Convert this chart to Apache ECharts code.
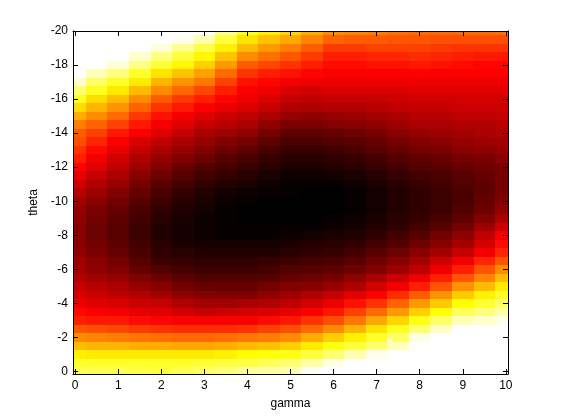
<!DOCTYPE html>
<html>
<head>
<meta charset="utf-8">
<script src="https://cdn.jsdelivr.net/npm/echarts@6/dist/echarts.min.js"></script>
<style>
  html, body { margin: 0; padding: 0; background: #fff; }
  #chart { width: 561px; height: 420px; }
</style>
</head>
<body>
<div id="chart"></div>
<script>
// surface (level 0 = black, 1 = white)
var gammaValues = [0, 0.5, 1, 1.5, 2, 2.5, 3, 3.5, 4, 4.5, 5, 5.5, 6, 6.5, 7, 7.5, 8, 8.5, 9, 9.5, 10];
var thetaValues = [0, -0.5, -1, -1.5, -2, -2.5, -3, -3.5, -4, -4.5, -5, -5.5, -6, -6.5, -7, -7.5, -8, -8.5, -9, -9.5,
  -10, -10.5, -11, -11.5, -12, -12.5, -13, -13.5, -14, -14.5, -15, -15.5, -16, -16.5, -17, -17.5, -18, -18.5, -19, -19.5, -20];
// one column per gamma, values from theta 0 down to theta -20
var levelColumns = [
  [0.84,0.79,0.73,0.65,0.58,0.50,0.42,0.39,0.35,0.32,0.29,0.26,0.24,0.23,0.21, 0.20,0.20,0.20,0.21,0.22,0.24,0.27,0.30,0.34,0.38,0.42,0.45,0.49, 0.51,0.56,0.63,0.70,0.78,0.86,0.95,1.02,1.08,1.13,1.17,1.21,1.25],
  [0.83,0.79,0.72,0.64,0.57,0.49,0.41,0.37,0.33,0.30,0.27,0.24,0.21,0.20,0.18, 0.17,0.16,0.16,0.17,0.18,0.20,0.23,0.26,0.29,0.33,0.36,0.39,0.43, 0.47,0.52,0.58,0.64,0.70,0.78,0.85,0.93,1.00,1.06,1.11,1.17,1.22],
  [0.83,0.79,0.72,0.64,0.56,0.48,0.41,0.36,0.32,0.28,0.25,0.22,0.19,0.17,0.15, 0.14,0.13,0.13,0.14,0.15,0.17,0.19,0.22,0.25,0.28,0.31,0.34,0.37, 0.41,0.47,0.53,0.59,0.65,0.72,0.79,0.87,0.96,1.02,1.08,1.14,1.20],
  [0.82,0.79,0.72,0.63,0.55,0.46,0.39,0.34,0.30,0.26,0.22,0.19,0.15,0.13,0.11, 0.10,0.09,0.09,0.10,0.11,0.13,0.15,0.17,0.20,0.23,0.26,0.29,0.32, 0.37,0.41,0.46,0.52,0.58,0.65,0.72,0.79,0.88,0.95,1.02,1.09,1.14],
  [0.81,0.79,0.72,0.63,0.54,0.45,0.38,0.33,0.29,0.24,0.20,0.16,0.12,0.09,0.07, 0.06,0.05,0.05,0.06,0.07,0.09,0.11,0.13,0.16,0.19,0.22,0.25,0.28, 0.33,0.36,0.40,0.45,0.51,0.58,0.64,0.71,0.80,0.875,0.96,1.03,1.08],
  [0.83,0.79,0.72,0.62,0.53,0.44,0.37,0.31,0.26,0.21,0.17,0.14,0.10,0.08,0.06, 0.04,0.03,0.03,0.04,0.05,0.06,0.08,0.10,0.13,0.15,0.19,0.22,0.25, 0.29,0.33,0.36,0.41,0.46,0.53,0.59,0.66,0.74,0.81,0.89,0.98,1.04],
  [0.85,0.80,0.72,0.62,0.53,0.44,0.37,0.29,0.24,0.19,0.155,0.12,0.09,0.07,0.05, 0.03,0.02,0.02,0.02,0.03,0.04,0.05,0.07,0.10,0.12,0.16,0.19,0.22, 0.25,0.29,0.33,0.37,0.42,0.48,0.55,0.61,0.68,0.74,0.82,0.92,1.00],
  [0.87,0.81,0.73,0.63,0.54,0.44,0.37,0.30,0.24,0.19,0.15,0.12,0.09,0.07,0.05, 0.03,0.01,0.01,0.01,0.01,0.02,0.03,0.05,0.08,0.10,0.13,0.16,0.19, 0.23,0.27,0.30,0.34,0.38,0.42,0.47,0.53,0.60,0.66,0.73,0.81,0.89],
  [0.90,0.82,0.75,0.65,0.55,0.45,0.37,0.31,0.25,0.19,0.15,0.12,0.09,0.07,0.05, 0.03,0.01,0.01,0.00,0.00,0.01,0.02,0.04,0.06,0.08,0.11,0.14,0.17, 0.21,0.25,0.28,0.32,0.35,0.37,0.40,0.45,0.51,0.58,0.65,0.71,0.78],
  [0.91,0.84,0.76,0.66,0.56,0.47,0.39,0.32,0.26,0.21,0.17,0.13,0.10,0.08,0.05, 0.03,0.01,0.01,0.00,0.00,0.00,0.01,0.02,0.04,0.06,0.08,0.11,0.14, 0.17,0.21,0.25,0.29,0.32,0.35,0.38,0.42,0.48,0.54,0.60,0.66,0.73],
  [0.92,0.86,0.77,0.68,0.58,0.49,0.41,0.34,0.28,0.23,0.19,0.15,0.12,0.09,0.06, 0.04,0.02,0.01,0.00,0.00,0.00,0.01,0.01,0.02,0.04,0.06,0.08,0.11, 0.14,0.18,0.22,0.26,0.29,0.32,0.36,0.40,0.45,0.50,0.56,0.62,0.69],
  [0.99,0.91,0.81,0.72,0.63,0.53,0.45,0.37,0.31,0.26,0.20,0.16,0.13,0.10,0.07, 0.05,0.03,0.01,0.00,0.00,0.00,0.00,0.01,0.02,0.04,0.06,0.08,0.11, 0.14,0.18,0.21,0.25,0.28,0.31,0.35,0.38,0.42,0.46,0.51,0.57,0.63],
  [1.06,0.97,0.86,0.77,0.68,0.58,0.49,0.41,0.35,0.29,0.22,0.18,0.14,0.11,0.08, 0.06,0.04,0.02,0.01,0.00,0.00,0.00,0.01,0.03,0.05,0.07,0.09,0.12, 0.15,0.19,0.22,0.26,0.29,0.32,0.35,0.37,0.39,0.42,0.46,0.52,0.58],
  [1.10,1.02,0.92,0.81,0.73,0.64,0.55,0.47,0.40,0.33,0.26,0.21,0.16,0.13,0.10, 0.07,0.05,0.03,0.02,0.01,0.01,0.01,0.02,0.04,0.06,0.08,0.11,0.13, 0.16,0.20,0.23,0.26,0.29,0.32,0.35,0.37,0.39,0.42,0.46,0.51,0.57],
  [1.15,1.07,0.98,0.86,0.79,0.71,0.62,0.53,0.45,0.375,0.31,0.25,0.19,0.16,0.13, 0.10,0.07,0.05,0.04,0.03,0.03,0.03,0.04,0.06,0.08,0.10,0.13,0.15, 0.18,0.21,0.24,0.27,0.29,0.32,0.35,0.37,0.40,0.43,0.47,0.51,0.56],
  [1.22,1.14,1.06,0.93,0.85,0.78,0.69,0.60,0.52,0.44,0.36,0.30,0.23,0.20,0.16, 0.12,0.10,0.07,0.06,0.05,0.05,0.05,0.06,0.08,0.10,0.12,0.15,0.17, 0.20,0.23,0.25,0.28,0.30,0.32,0.35,0.37,0.40,0.43,0.47,0.50,0.54],
  [1.30,1.22,1.14,1.05,0.97,0.86,0.77,0.68,0.60,0.51,0.42,0.35,0.28,0.24,0.20, 0.16,0.13,0.10,0.08,0.07,0.07,0.07,0.08,0.10,0.12,0.14,0.17,0.19, 0.22,0.25,0.27,0.29,0.31,0.33,0.35,0.375,0.41,0.44,0.47,0.50,0.53],
  [1.37,1.29,1.21,1.12,1.04,0.94,0.85,0.76,0.67,0.59,0.50,0.42,0.35,0.30,0.24, 0.20,0.17,0.13,0.11,0.09,0.09,0.09,0.10,0.11,0.13,0.15,0.18,0.20, 0.23,0.25,0.27,0.29,0.31,0.33,0.35,0.37,0.40,0.43,0.46,0.49,0.53],
  [1.45,1.37,1.29,1.20,1.11,1.02,0.93,0.84,0.75,0.67,0.59,0.50,0.42,0.36,0.29, 0.24,0.21,0.17,0.14,0.12,0.11,0.11,0.12,0.13,0.15,0.17,0.20,0.22, 0.24,0.26,0.28,0.30,0.31,0.33,0.35,0.37,0.39,0.42,0.45,0.49,0.53],
  [1.50,1.41,1.33,1.24,1.14,1.04,0.95,0.87,0.80,0.73,0.65,0.57,0.50,0.43,0.36, 0.31,0.28,0.23,0.19,0.16,0.15,0.14,0.14,0.15,0.16,0.18,0.21,0.23, 0.25,0.26,0.28,0.30,0.31,0.33,0.35,0.37,0.38,0.41,0.45,0.49,0.53],
  [1.55,1.46,1.37,1.28,1.18,1.07,0.98,0.91,0.85,0.79,0.72,0.65,0.58,0.50,0.43, 0.39,0.36,0.30,0.25,0.21,0.19,0.18,0.17,0.17,0.18,0.20,0.22,0.24, 0.26,0.27,0.29,0.30,0.31,0.33,0.35,0.37,0.38,0.41,0.45,0.49,0.54]
];
// the single white marker
var markerGamma = [7.3];
var markerTheta = [-1.8];

var xTicks = [0, 1, 2, 3, 4, 5, 6, 7, 8, 9, 10];
var yTicks = [-20, -18, -16, -14, -12, -10, -8, -6, -4, -2, 0];

// matlab "hot"
var hotColors = ['#000000', '#550000', '#aa0000', '#ff0000', '#ff5500', '#ffaa00', '#ffff00', '#ffff80', '#ffffff'];

var cells = [];
gammaValues.forEach(function (g, j) {
  thetaValues.forEach(function (t, i) {
    cells.push([g, t, levelColumns[j][i]]);
  });
});
var markers = markerGamma.map(function (g, i) {
  return [g, markerTheta[i]];
});

var halfW = (gammaValues[1] - gammaValues[0]) / 2;
var halfH = Math.abs(thetaValues[1] - thetaValues[0]) / 2;

function renderCell(params, api) {
  var g = api.value(0);
  var t = api.value(1);
  var a = api.coord([g - halfW, t - halfH]);
  var b = api.coord([g + halfW, t + halfH]);
  var x0 = Math.round(Math.min(a[0], b[0]));
  var x1 = Math.round(Math.max(a[0], b[0]));
  var y0 = Math.round(Math.min(a[1], b[1]));
  var y1 = Math.round(Math.max(a[1], b[1]));
  var cs = params.coordSys;
  var shape = echarts.graphic.clipRectByRect(
    { x: x0, y: y0, width: x1 - x0, height: y1 - y0 },
    { x: cs.x, y: cs.y, width: cs.width, height: cs.height }
  );
  if (!shape) return;
  return { type: 'rect', shape: shape, style: { fill: api.visual('color') } };
}

var font = { fontFamily: 'Liberation Sans, Arial, sans-serif', fontSize: 12, color: '#000' };
var line = { show: true, onZero: false, lineStyle: { color: '#000', width: 1 } };
function ticks(vals) {
  return { show: true, inside: true, length: 5, customValues: vals, lineStyle: { color: '#000', width: 1 } };
}

var chart = echarts.init(document.getElementById('chart'));
chart.setOption({
  animation: false,
  backgroundColor: '#fff',
  grid: { left: 73, right: 53, top: 31, bottom: 46 },
  visualMap: {
    show: false,
    seriesIndex: 0,
    dimension: 2,
    min: 0,
    max: 1,
    inRange: { color: hotColors }
  },
  xAxis: [
    {
      type: 'value', min: -0.05, max: 10.05, z: 10,
      name: 'gamma', nameLocation: 'middle', nameGap: 24,
      nameTextStyle: font,
      axisLine: line,
      axisTick: ticks(xTicks),
      axisLabel: Object.assign({ customValues: xTicks, margin: 6 }, font),
      splitLine: { show: false }
    },
    {
      type: 'value', min: -0.05, max: 10.05, position: 'top', z: 10,
      axisLine: line,
      axisTick: ticks(xTicks),
      axisLabel: { show: false },
      splitLine: { show: false }
    }
  ],
  yAxis: [
    {
      type: 'value', min: -20, max: 0.15, inverse: true, z: 10,
      name: 'theta', nameLocation: 'middle', nameGap: 23,
      nameTextStyle: font,
      axisLine: line,
      axisTick: ticks(yTicks),
      axisLabel: Object.assign({ customValues: yTicks, margin: 5 }, font),
      splitLine: { show: false }
    },
    {
      type: 'value', min: -20, max: 0.15, inverse: true, position: 'right', z: 10,
      axisLine: line,
      axisTick: ticks(yTicks),
      axisLabel: { show: false },
      splitLine: { show: false }
    }
  ],
  series: [
    {
      type: 'custom',
      renderItem: renderCell,
      encode: { x: 0, y: 1 },
      data: cells,
      z: 1
    },
    {
      type: 'scatter',
      symbol: 'rect',
      symbolSize: [5, 4],
      itemStyle: { color: '#fff' },
      data: markers,
      z: 3
    }
  ]
});
</script>
</body>
</html>
